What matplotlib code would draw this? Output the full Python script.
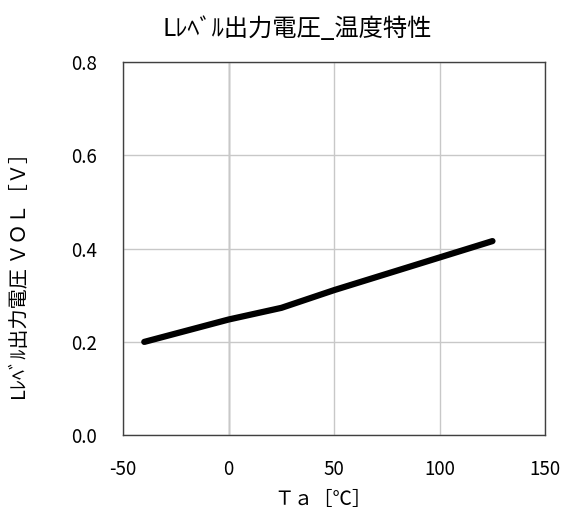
import matplotlib

matplotlib.use("Agg")
import matplotlib.pyplot as plt

plt.rcParams["font.family"] = ["Noto Sans CJK JP", "DejaVu Sans"]
plt.rcParams["axes.unicode_minus"] = False

temperatura = [-40, 0, 25, 50, 75, 100, 125]
vol = [0.200, 0.248, 0.273, 0.311, 0.346, 0.381, 0.416]

xticks = [-50, 0, 50, 100, 150]
yticks = [0.0, 0.2, 0.4, 0.6, 0.8]

fig = plt.figure(figsize=(5.65, 5.2), dpi=100)
ax = fig.add_axes([0.218, 0.163, 0.747, 0.718])

ax.plot(temperatura, vol, color="black", linewidth=4.5, solid_capstyle="round", zorder=3)

ax.set_xlim(-50, 150)
ax.set_ylim(0, 0.8)
ax.set_xticks(xticks)
ax.set_yticks(yticks)
ax.set_yticklabels([f"{v:.1f}" for v in yticks])
ax.grid(True, color="#c8c8c8", linewidth=1.0)
ax.axvline(0, color="#8c8c8c", linewidth=1.0, zorder=1)
ax.tick_params(length=0, labelsize=13.5)
ax.tick_params(axis="x", pad=17)
ax.tick_params(axis="y", pad=19)
for s in ax.spines.values():
    s.set_color("#404040")
    s.set_linewidth(1.0)

fig.suptitle("Lﾚﾍﾞﾙ出力電圧_温度特性", fontsize=17.5, x=0.526, y=0.97, va="top")
ax.set_xlabel("Ｔａ［℃］", fontsize=14)
ax.xaxis.set_label_coords(0.474, -0.145)
ax.set_ylabel("Lﾚﾍﾞﾙ出力電圧 ＶＯＬ［Ｖ］", fontsize=14.5)
ax.yaxis.set_label_coords(-0.218, 0.44)

fig.savefig("out.png", dpi=100)
plt.close(fig)
